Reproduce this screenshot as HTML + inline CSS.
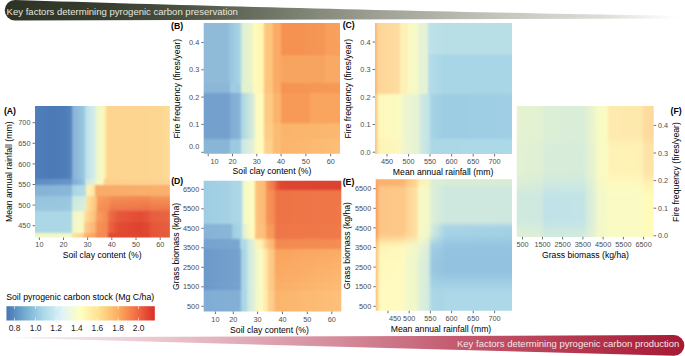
<!DOCTYPE html>
<html><head><meta charset="utf-8"><style>
html,body{margin:0;padding:0;background:#fff;}
body{width:685px;height:356px;overflow:hidden;}
svg{display:block;font-family:"Liberation Sans", sans-serif;}
</style></head><body>
<svg width="685" height="356" viewBox="0 0 685 356">
<defs><linearGradient id="topban" gradientUnits="userSpaceOnUse" x1="0" y1="0" x2="685" y2="0">
<stop offset="0" stop-color="#2c3324"/>
<stop offset="0.146" stop-color="#363d2e"/>
<stop offset="0.263" stop-color="#4a5142"/>
<stop offset="0.394" stop-color="#6f7565"/>
<stop offset="0.438" stop-color="#7d8373"/>
<stop offset="0.562" stop-color="#a0a396"/>
<stop offset="0.752" stop-color="#c8cac2"/>
<stop offset="0.876" stop-color="#dcdcd6"/>
<stop offset="0.99" stop-color="#ffffff"/>
</linearGradient>
<linearGradient id="botban" gradientUnits="userSpaceOnUse" x1="0" y1="0" x2="685" y2="0">
<stop offset="0" stop-color="#ffffff"/>
<stop offset="0.05" stop-color="#f7eaee"/>
<stop offset="0.146" stop-color="#f0d8de"/>
<stop offset="0.248" stop-color="#e9c3cc"/>
<stop offset="0.496" stop-color="#d48b9a"/>
<stop offset="0.666" stop-color="#c35a70"/>
<stop offset="0.876" stop-color="#b23048"/>
<stop offset="1" stop-color="#a61a36"/>
</linearGradient>
<filter id="soft1_2" x="0" y="0" width="1" height="1" color-interpolation-filters="sRGB"><feGaussianBlur stdDeviation="1.2" edgeMode="duplicate"/></filter>
<clipPath id="c1"><rect x="35.00" y="106.00" width="134.90" height="131.50"/></clipPath>
<linearGradient id="g1" gradientUnits="userSpaceOnUse" x1="35.00" y1="0" x2="169.90" y2="0"><stop offset="0.0000" stop-color="#4f7fbb"/><stop offset="0.1112" stop-color="#4b7ab7"/><stop offset="0.2224" stop-color="#4d7cb9"/><stop offset="0.2721" stop-color="#5685be"/><stop offset="0.2721" stop-color="#86b0d6"/><stop offset="0.3721" stop-color="#9ccbe0"/><stop offset="0.3721" stop-color="#b9e0ea"/><stop offset="0.4485" stop-color="#d8efe8"/><stop offset="0.4485" stop-color="#eef7cc"/><stop offset="0.5078" stop-color="#f6fac0"/><stop offset="0.5078" stop-color="#fff0b0"/><stop offset="0.5300" stop-color="#fff0b0"/><stop offset="0.5300" stop-color="#fdd590"/><stop offset="0.9266" stop-color="#fdd692"/><stop offset="1.0000" stop-color="#fedd98"/></linearGradient>
<linearGradient id="g2" gradientUnits="userSpaceOnUse" x1="35.00" y1="0" x2="169.90" y2="0"><stop offset="0.0000" stop-color="#5f8cc4"/><stop offset="0.2743" stop-color="#6a96c8"/><stop offset="0.2743" stop-color="#7eaad3"/><stop offset="0.3706" stop-color="#96c3de"/><stop offset="0.3706" stop-color="#c8e6e6"/><stop offset="0.4522" stop-color="#e8f4d4"/><stop offset="0.4522" stop-color="#f6f9c4"/><stop offset="0.5115" stop-color="#fbf4bc"/><stop offset="0.5115" stop-color="#fdd08c"/><stop offset="1.0000" stop-color="#fdd494"/></linearGradient>
<linearGradient id="g3" gradientUnits="userSpaceOnUse" x1="35.00" y1="0" x2="169.90" y2="0"><stop offset="0.0000" stop-color="#86b3d6"/><stop offset="0.2743" stop-color="#8ab8d8"/><stop offset="0.2743" stop-color="#a8d5e6"/><stop offset="0.3781" stop-color="#b5dde6"/><stop offset="0.3781" stop-color="#fef4b4"/><stop offset="0.4448" stop-color="#fee8a8"/><stop offset="0.4448" stop-color="#f9ab6a"/><stop offset="1.0000" stop-color="#fab06c"/></linearGradient>
<linearGradient id="g4" gradientUnits="userSpaceOnUse" x1="35.00" y1="0" x2="169.90" y2="0"><stop offset="0.0000" stop-color="#96c4df"/><stop offset="0.2743" stop-color="#99c7df"/><stop offset="0.2743" stop-color="#c9e7e2"/><stop offset="0.3781" stop-color="#d7eddc"/><stop offset="0.3781" stop-color="#fee6a2"/><stop offset="0.4596" stop-color="#fdc17b"/><stop offset="0.4596" stop-color="#f89e5e"/><stop offset="0.5560" stop-color="#f69457"/><stop offset="0.5560" stop-color="#f48f56"/><stop offset="0.8525" stop-color="#f38a52"/><stop offset="0.8525" stop-color="#f49256"/><stop offset="1.0000" stop-color="#f49558"/></linearGradient>
<linearGradient id="g5" gradientUnits="userSpaceOnUse" x1="35.00" y1="0" x2="169.90" y2="0"><stop offset="0.0000" stop-color="#97c5df"/><stop offset="0.2743" stop-color="#9ac8df"/><stop offset="0.2743" stop-color="#cce8e0"/><stop offset="0.3781" stop-color="#d8eddb"/><stop offset="0.3781" stop-color="#fee5a1"/><stop offset="0.4596" stop-color="#fdc07a"/><stop offset="0.4596" stop-color="#f7995c"/><stop offset="0.5560" stop-color="#f59055"/><stop offset="0.5560" stop-color="#f28753"/><stop offset="0.8525" stop-color="#f1814e"/><stop offset="0.8525" stop-color="#f28852"/><stop offset="1.0000" stop-color="#f28a53"/></linearGradient>
<linearGradient id="g6" gradientUnits="userSpaceOnUse" x1="35.00" y1="0" x2="169.90" y2="0"><stop offset="0.0000" stop-color="#98c6df"/><stop offset="0.2743" stop-color="#9bc8e0"/><stop offset="0.2743" stop-color="#cee9e0"/><stop offset="0.3781" stop-color="#daeedb"/><stop offset="0.3781" stop-color="#fee5a1"/><stop offset="0.4596" stop-color="#fdbe78"/><stop offset="0.4596" stop-color="#f79558"/><stop offset="0.5560" stop-color="#f48c53"/><stop offset="0.5560" stop-color="#f1804f"/><stop offset="0.8525" stop-color="#ef794b"/><stop offset="0.8525" stop-color="#f1804e"/><stop offset="1.0000" stop-color="#f1804e"/></linearGradient>
<linearGradient id="g7" gradientUnits="userSpaceOnUse" x1="35.00" y1="0" x2="169.90" y2="0"><stop offset="0.0000" stop-color="#99c7df"/><stop offset="0.2743" stop-color="#9cc9e0"/><stop offset="0.2743" stop-color="#d1eade"/><stop offset="0.3781" stop-color="#dbeeda"/><stop offset="0.3781" stop-color="#fee4a0"/><stop offset="0.4596" stop-color="#fdbd77"/><stop offset="0.4596" stop-color="#f69056"/><stop offset="0.5560" stop-color="#f38851"/><stop offset="0.5560" stop-color="#ef784c"/><stop offset="0.8525" stop-color="#ed7047"/><stop offset="0.8525" stop-color="#ef764a"/><stop offset="1.0000" stop-color="#ef7549"/></linearGradient>
<linearGradient id="g8" gradientUnits="userSpaceOnUse" x1="35.00" y1="0" x2="169.90" y2="0"><stop offset="0.0000" stop-color="#acd7e7"/><stop offset="0.2743" stop-color="#acd7e7"/><stop offset="0.2743" stop-color="#eef7cd"/><stop offset="0.3632" stop-color="#f8f9c4"/><stop offset="0.3632" stop-color="#fee2a0"/><stop offset="0.4522" stop-color="#fdbc76"/><stop offset="0.4522" stop-color="#f9a060"/><stop offset="0.5411" stop-color="#f48a50"/><stop offset="0.5411" stop-color="#ef7248"/><stop offset="0.6153" stop-color="#e7583b"/><stop offset="0.7784" stop-color="#e34c34"/><stop offset="0.8525" stop-color="#e6553a"/><stop offset="0.8525" stop-color="#e85d3e"/><stop offset="1.0000" stop-color="#ea6442"/></linearGradient>
<linearGradient id="g9" gradientUnits="userSpaceOnUse" x1="35.00" y1="0" x2="169.90" y2="0"><stop offset="0.0000" stop-color="#acd8e6"/><stop offset="0.2743" stop-color="#acd8e6"/><stop offset="0.2743" stop-color="#f0f7cc"/><stop offset="0.3632" stop-color="#fcf9c0"/><stop offset="0.3632" stop-color="#fdd090"/><stop offset="0.4522" stop-color="#fdb070"/><stop offset="0.4522" stop-color="#f79458"/><stop offset="0.5411" stop-color="#f38650"/><stop offset="0.5411" stop-color="#ec6a44"/><stop offset="0.6153" stop-color="#e34d34"/><stop offset="0.7784" stop-color="#dd4230"/><stop offset="0.8525" stop-color="#e24a33"/><stop offset="0.8525" stop-color="#e45739"/><stop offset="1.0000" stop-color="#e75e3e"/></linearGradient>
<linearGradient id="g10" gradientUnits="userSpaceOnUse" x1="35.00" y1="0" x2="169.90" y2="0"><stop offset="0.0000" stop-color="#f2f8c8"/><stop offset="0.2743" stop-color="#f2f8c8"/><stop offset="0.2743" stop-color="#fee4a0"/><stop offset="0.3632" stop-color="#fdd490"/><stop offset="0.3632" stop-color="#fdb56e"/><stop offset="0.4522" stop-color="#fba060"/><stop offset="0.4522" stop-color="#f68a50"/><stop offset="0.5411" stop-color="#f68a50"/><stop offset="0.5411" stop-color="#e34a33"/><stop offset="0.8525" stop-color="#e0442f"/><stop offset="0.8525" stop-color="#e4563a"/><stop offset="1.0000" stop-color="#e65b3d"/></linearGradient>
<linearGradient id="leg" gradientUnits="userSpaceOnUse" x1="6.45" y1="0" x2="154.8" y2="0">
<stop offset="0" stop-color="#4575b4"/>
<stop offset="0.125" stop-color="#74add1"/>
<stop offset="0.25" stop-color="#abd9e9"/>
<stop offset="0.375" stop-color="#e0f3f8"/>
<stop offset="0.5" stop-color="#ffffbf"/>
<stop offset="0.625" stop-color="#fee090"/>
<stop offset="0.75" stop-color="#fdae61"/>
<stop offset="0.875" stop-color="#f46d43"/>
<stop offset="1" stop-color="#d73027"/>
</linearGradient>
<clipPath id="c2"><rect x="203.70" y="23.00" width="136.30" height="130.80"/></clipPath>
<linearGradient id="g11" gradientUnits="userSpaceOnUse" x1="203.70" y1="0" x2="340.00" y2="0"><stop offset="0.0000" stop-color="#90bad8"/><stop offset="0.1563" stop-color="#8fbad8"/><stop offset="0.1944" stop-color="#94c0db"/><stop offset="0.1944" stop-color="#9ac6df"/><stop offset="0.2729" stop-color="#a8d6e6"/><stop offset="0.2729" stop-color="#d8edd8"/><stop offset="0.3646" stop-color="#f0f6c6"/><stop offset="0.3646" stop-color="#fffbbc"/><stop offset="0.4453" stop-color="#fff4ae"/><stop offset="0.4453" stop-color="#fdc880"/><stop offset="0.5121" stop-color="#fdc27c"/><stop offset="0.5121" stop-color="#fbab66"/><stop offset="0.5642" stop-color="#fbab66"/><stop offset="0.5642" stop-color="#f59252"/><stop offset="0.7432" stop-color="#f59252"/><stop offset="0.7432" stop-color="#f59454"/><stop offset="0.8899" stop-color="#f69756"/><stop offset="0.8899" stop-color="#f79e5a"/><stop offset="1.0000" stop-color="#f8a05c"/></linearGradient>
<linearGradient id="g12" gradientUnits="userSpaceOnUse" x1="203.70" y1="0" x2="340.00" y2="0"><stop offset="0.0000" stop-color="#90bad8"/><stop offset="0.1563" stop-color="#8fbad8"/><stop offset="0.1944" stop-color="#94c0db"/><stop offset="0.1944" stop-color="#9ac6df"/><stop offset="0.2729" stop-color="#a8d6e6"/><stop offset="0.2729" stop-color="#d8edd8"/><stop offset="0.3646" stop-color="#f0f6c6"/><stop offset="0.3646" stop-color="#fffbbc"/><stop offset="0.4453" stop-color="#fff4ae"/><stop offset="0.4453" stop-color="#fdc880"/><stop offset="0.5121" stop-color="#fdc27c"/><stop offset="0.5121" stop-color="#fbab66"/><stop offset="0.5642" stop-color="#fbab66"/><stop offset="0.5642" stop-color="#f8a461"/><stop offset="0.8899" stop-color="#f8a461"/><stop offset="0.8899" stop-color="#f9a964"/><stop offset="1.0000" stop-color="#f9a964"/></linearGradient>
<linearGradient id="g13" gradientUnits="userSpaceOnUse" x1="203.70" y1="0" x2="340.00" y2="0"><stop offset="0.0000" stop-color="#8cb7d7"/><stop offset="0.1944" stop-color="#8cb7d7"/><stop offset="0.1944" stop-color="#9fcce2"/><stop offset="0.2729" stop-color="#9fcce2"/><stop offset="0.2729" stop-color="#e0f0d2"/><stop offset="0.3646" stop-color="#e8f3cc"/><stop offset="0.3646" stop-color="#fffac0"/><stop offset="0.4453" stop-color="#fff4b0"/><stop offset="0.4453" stop-color="#fdc47e"/><stop offset="0.5121" stop-color="#fdc47e"/><stop offset="0.5121" stop-color="#fbab66"/><stop offset="0.5642" stop-color="#fbab66"/><stop offset="0.5642" stop-color="#f69352"/><stop offset="1.0000" stop-color="#f69a56"/></linearGradient>
<linearGradient id="g14" gradientUnits="userSpaceOnUse" x1="203.70" y1="0" x2="340.00" y2="0"><stop offset="0.0000" stop-color="#74a0ce"/><stop offset="0.1966" stop-color="#74a0ce"/><stop offset="0.1966" stop-color="#80acd4"/><stop offset="0.2759" stop-color="#8ab6d8"/><stop offset="0.2759" stop-color="#a8d5e6"/><stop offset="0.3764" stop-color="#e0f0d4"/><stop offset="0.3764" stop-color="#fffabe"/><stop offset="0.4424" stop-color="#fffabe"/><stop offset="0.4424" stop-color="#fdca84"/><stop offset="0.5121" stop-color="#fdca84"/><stop offset="0.5121" stop-color="#fbb46c"/><stop offset="0.5642" stop-color="#fbb46c"/><stop offset="0.5642" stop-color="#f79a58"/><stop offset="0.7799" stop-color="#f79a58"/><stop offset="0.7799" stop-color="#f9a560"/><stop offset="1.0000" stop-color="#f9a560"/></linearGradient>
<linearGradient id="g15" gradientUnits="userSpaceOnUse" x1="203.70" y1="0" x2="340.00" y2="0"><stop offset="0.0000" stop-color="#74a0ce"/><stop offset="0.1966" stop-color="#74a0ce"/><stop offset="0.1966" stop-color="#80acd4"/><stop offset="0.2759" stop-color="#8ab6d8"/><stop offset="0.2759" stop-color="#a8d5e6"/><stop offset="0.3764" stop-color="#e0f0d4"/><stop offset="0.3764" stop-color="#fffabe"/><stop offset="0.4424" stop-color="#fffabe"/><stop offset="0.4424" stop-color="#fdcc86"/><stop offset="0.5121" stop-color="#fdcc86"/><stop offset="0.5121" stop-color="#fcbc74"/><stop offset="0.5642" stop-color="#fcbc74"/><stop offset="0.5642" stop-color="#fbb46c"/><stop offset="1.0000" stop-color="#fcb870"/></linearGradient>
<linearGradient id="g16" gradientUnits="userSpaceOnUse" x1="203.70" y1="0" x2="340.00" y2="0"><stop offset="0.0000" stop-color="#89b5d6"/><stop offset="0.1930" stop-color="#89b5d6"/><stop offset="0.1930" stop-color="#9ccae1"/><stop offset="0.2737" stop-color="#9ccae1"/><stop offset="0.2737" stop-color="#c8e6e8"/><stop offset="0.3764" stop-color="#e8f4d0"/><stop offset="0.3764" stop-color="#fffbc0"/><stop offset="0.4424" stop-color="#fffbc0"/><stop offset="0.4424" stop-color="#fdd08c"/><stop offset="0.5121" stop-color="#fdd08c"/><stop offset="0.5121" stop-color="#fcbc74"/><stop offset="0.5642" stop-color="#fcbc74"/><stop offset="0.5642" stop-color="#fbb46c"/><stop offset="1.0000" stop-color="#fdbe76"/></linearGradient>
<clipPath id="c3"><rect x="375.00" y="23.00" width="137.00" height="131.00"/></clipPath>
<linearGradient id="g17" gradientUnits="userSpaceOnUse" x1="375.00" y1="0" x2="512.00" y2="0"><stop offset="0.0000" stop-color="#fdb874"/><stop offset="0.0146" stop-color="#fdb874"/><stop offset="0.0146" stop-color="#fed496"/><stop offset="0.1825" stop-color="#fedda2"/><stop offset="0.1825" stop-color="#fff0b5"/><stop offset="0.2409" stop-color="#fff0b5"/><stop offset="0.2409" stop-color="#f8fac6"/><stop offset="0.3139" stop-color="#f8fac6"/><stop offset="0.3139" stop-color="#e5f2d5"/><stop offset="0.3869" stop-color="#e5f2d5"/><stop offset="0.3869" stop-color="#bfe2eb"/><stop offset="0.5036" stop-color="#b8dee6"/><stop offset="1.0000" stop-color="#b8dee6"/></linearGradient>
<linearGradient id="g18" gradientUnits="userSpaceOnUse" x1="375.00" y1="0" x2="512.00" y2="0"><stop offset="0.0000" stop-color="#fdb874"/><stop offset="0.0146" stop-color="#fdb874"/><stop offset="0.0146" stop-color="#fed496"/><stop offset="0.1825" stop-color="#fedda2"/><stop offset="0.1825" stop-color="#fff0b5"/><stop offset="0.2409" stop-color="#fff0b5"/><stop offset="0.2409" stop-color="#f8fac6"/><stop offset="0.3139" stop-color="#f8fac6"/><stop offset="0.3139" stop-color="#e5f2d5"/><stop offset="0.3869" stop-color="#e5f2d5"/><stop offset="0.3869" stop-color="#b5dde8"/><stop offset="0.5036" stop-color="#a8d6e6"/><stop offset="1.0000" stop-color="#a8d6e6"/></linearGradient>
<linearGradient id="g19" gradientUnits="userSpaceOnUse" x1="375.00" y1="0" x2="512.00" y2="0"><stop offset="0.0000" stop-color="#fdc684"/><stop offset="0.0146" stop-color="#fdc684"/><stop offset="0.0146" stop-color="#fde8a8"/><stop offset="0.0292" stop-color="#fef8bc"/><stop offset="0.1971" stop-color="#fbfac2"/><stop offset="0.1971" stop-color="#f0f7ce"/><stop offset="0.3285" stop-color="#e2f1d6"/><stop offset="0.3285" stop-color="#d0eae2"/><stop offset="0.4015" stop-color="#c0e3e8"/><stop offset="0.4015" stop-color="#a8d5e6"/><stop offset="0.5036" stop-color="#9ccde3"/><stop offset="1.0000" stop-color="#a0cfe4"/></linearGradient>
<linearGradient id="g20" gradientUnits="userSpaceOnUse" x1="375.00" y1="0" x2="512.00" y2="0"><stop offset="0.0000" stop-color="#fdc684"/><stop offset="0.0146" stop-color="#fdc684"/><stop offset="0.0146" stop-color="#fde4a4"/><stop offset="0.0292" stop-color="#fef4b6"/><stop offset="0.1971" stop-color="#fcf8c0"/><stop offset="0.1971" stop-color="#f0f7ce"/><stop offset="0.3285" stop-color="#e2f1d6"/><stop offset="0.3285" stop-color="#d0eae2"/><stop offset="0.4015" stop-color="#c0e3e8"/><stop offset="0.4015" stop-color="#acd8e6"/><stop offset="1.0000" stop-color="#acd9e8"/></linearGradient>
<filter id="soft1_3" x="0" y="0" width="1" height="1" color-interpolation-filters="sRGB"><feGaussianBlur stdDeviation="1.3" edgeMode="duplicate"/></filter>
<clipPath id="c4"><rect x="203.70" y="180.80" width="137.60" height="130.80"/></clipPath>
<linearGradient id="g21" gradientUnits="userSpaceOnUse" x1="203.70" y1="0" x2="341.30" y2="0"><stop offset="0.0000" stop-color="#9ecde3"/><stop offset="0.1911" stop-color="#a5d1e4"/><stop offset="0.1911" stop-color="#a8d4e6"/><stop offset="0.2783" stop-color="#aed8e6"/><stop offset="0.2783" stop-color="#d8eedc"/><stop offset="0.2929" stop-color="#eef6cc"/><stop offset="0.2929" stop-color="#f6f9c6"/><stop offset="0.3728" stop-color="#fffcc0"/><stop offset="0.3728" stop-color="#fdc480"/><stop offset="0.4528" stop-color="#fdb872"/><stop offset="0.4528" stop-color="#f59454"/><stop offset="0.5182" stop-color="#ee7248"/><stop offset="0.5182" stop-color="#ea6442"/><stop offset="0.5618" stop-color="#df4630"/><stop offset="1.0000" stop-color="#dc4230"/></linearGradient>
<linearGradient id="g22" gradientUnits="userSpaceOnUse" x1="203.70" y1="0" x2="341.30" y2="0"><stop offset="0.0000" stop-color="#9ecde3"/><stop offset="0.1911" stop-color="#a5d1e4"/><stop offset="0.1911" stop-color="#a8d4e6"/><stop offset="0.2783" stop-color="#aed8e6"/><stop offset="0.2783" stop-color="#d8eedc"/><stop offset="0.2929" stop-color="#eef6cc"/><stop offset="0.2929" stop-color="#f6f9c6"/><stop offset="0.3728" stop-color="#fffcc0"/><stop offset="0.3728" stop-color="#fdc480"/><stop offset="0.4528" stop-color="#fdb872"/><stop offset="0.4528" stop-color="#f7955a"/><stop offset="0.5182" stop-color="#f38a52"/><stop offset="0.5182" stop-color="#ee7446"/><stop offset="1.0000" stop-color="#ef7748"/></linearGradient>
<linearGradient id="g23" gradientUnits="userSpaceOnUse" x1="203.70" y1="0" x2="341.30" y2="0"><stop offset="0.0000" stop-color="#86b3d6"/><stop offset="0.2057" stop-color="#8ab6d8"/><stop offset="0.2057" stop-color="#a0cde3"/><stop offset="0.2783" stop-color="#aad6e6"/><stop offset="0.2783" stop-color="#d8eedc"/><stop offset="0.3219" stop-color="#eef6cc"/><stop offset="0.3219" stop-color="#fff8ba"/><stop offset="0.3728" stop-color="#fffcc0"/><stop offset="0.3728" stop-color="#fdc480"/><stop offset="0.4528" stop-color="#fdbc76"/><stop offset="0.4528" stop-color="#f8a060"/><stop offset="0.5182" stop-color="#f59454"/><stop offset="0.5182" stop-color="#ef7648"/><stop offset="1.0000" stop-color="#f07a4a"/></linearGradient>
<linearGradient id="g24" gradientUnits="userSpaceOnUse" x1="203.70" y1="0" x2="341.30" y2="0"><stop offset="0.0000" stop-color="#76a3cf"/><stop offset="0.2638" stop-color="#7aa6d0"/><stop offset="0.2638" stop-color="#a8d5e6"/><stop offset="0.3147" stop-color="#b5dde6"/><stop offset="0.3147" stop-color="#c8e6e6"/><stop offset="0.3801" stop-color="#eef6cc"/><stop offset="0.3801" stop-color="#fff4b6"/><stop offset="0.4310" stop-color="#fff0b0"/><stop offset="0.4310" stop-color="#fee0a0"/><stop offset="0.4673" stop-color="#fdc880"/><stop offset="0.4673" stop-color="#fdc080"/><stop offset="0.5182" stop-color="#fbb06a"/><stop offset="0.5182" stop-color="#f38a52"/><stop offset="1.0000" stop-color="#f48e54"/></linearGradient>
<linearGradient id="g25" gradientUnits="userSpaceOnUse" x1="203.70" y1="0" x2="341.30" y2="0"><stop offset="0.0000" stop-color="#6c99ca"/><stop offset="0.2711" stop-color="#76a2cf"/><stop offset="0.2711" stop-color="#a8d5e6"/><stop offset="0.3147" stop-color="#aed8e6"/><stop offset="0.3147" stop-color="#c8e6e6"/><stop offset="0.3801" stop-color="#e8f4d2"/><stop offset="0.3801" stop-color="#f2f8ca"/><stop offset="0.4310" stop-color="#fffbc0"/><stop offset="0.4310" stop-color="#fff0b0"/><stop offset="0.4673" stop-color="#fee0a0"/><stop offset="0.4673" stop-color="#fdd08c"/><stop offset="0.5182" stop-color="#fdc07c"/><stop offset="0.5182" stop-color="#f9a35f"/><stop offset="1.0000" stop-color="#fbad67"/></linearGradient>
<linearGradient id="g26" gradientUnits="userSpaceOnUse" x1="203.70" y1="0" x2="341.30" y2="0"><stop offset="0.0000" stop-color="#6c99ca"/><stop offset="0.2711" stop-color="#76a2cf"/><stop offset="0.2711" stop-color="#a8d5e6"/><stop offset="0.3147" stop-color="#aed8e6"/><stop offset="0.3147" stop-color="#c8e6e6"/><stop offset="0.3801" stop-color="#e8f4d2"/><stop offset="0.3801" stop-color="#f2f8ca"/><stop offset="0.4310" stop-color="#fffbc0"/><stop offset="0.4310" stop-color="#fff0b0"/><stop offset="0.4673" stop-color="#fee0a0"/><stop offset="0.4673" stop-color="#fdd08c"/><stop offset="0.5182" stop-color="#fdc07c"/><stop offset="0.5182" stop-color="#faa560"/><stop offset="1.0000" stop-color="#fcb06a"/></linearGradient>
<linearGradient id="g27" gradientUnits="userSpaceOnUse" x1="203.70" y1="0" x2="341.30" y2="0"><stop offset="0.0000" stop-color="#6c99ca"/><stop offset="0.2711" stop-color="#76a2cf"/><stop offset="0.2711" stop-color="#a8d5e6"/><stop offset="0.3147" stop-color="#aed8e6"/><stop offset="0.3147" stop-color="#c8e6e6"/><stop offset="0.3801" stop-color="#e8f4d2"/><stop offset="0.3801" stop-color="#f2f8ca"/><stop offset="0.4310" stop-color="#fffbc0"/><stop offset="0.4310" stop-color="#fff0b0"/><stop offset="0.4673" stop-color="#fee0a0"/><stop offset="0.4673" stop-color="#fdd08c"/><stop offset="0.5182" stop-color="#fdc07c"/><stop offset="0.5182" stop-color="#faa761"/><stop offset="1.0000" stop-color="#fcb36d"/></linearGradient>
<linearGradient id="g28" gradientUnits="userSpaceOnUse" x1="203.70" y1="0" x2="341.30" y2="0"><stop offset="0.0000" stop-color="#6c99ca"/><stop offset="0.2711" stop-color="#76a2cf"/><stop offset="0.2711" stop-color="#a8d5e6"/><stop offset="0.3147" stop-color="#aed8e6"/><stop offset="0.3147" stop-color="#c8e6e6"/><stop offset="0.3801" stop-color="#e8f4d2"/><stop offset="0.3801" stop-color="#f2f8ca"/><stop offset="0.4310" stop-color="#fffbc0"/><stop offset="0.4310" stop-color="#fff0b0"/><stop offset="0.4673" stop-color="#fee0a0"/><stop offset="0.4673" stop-color="#fdd08c"/><stop offset="0.5182" stop-color="#fdc07c"/><stop offset="0.5182" stop-color="#faa963"/><stop offset="1.0000" stop-color="#fcb56f"/></linearGradient>
<linearGradient id="g29" gradientUnits="userSpaceOnUse" x1="203.70" y1="0" x2="341.30" y2="0"><stop offset="0.0000" stop-color="#6c99ca"/><stop offset="0.2711" stop-color="#76a2cf"/><stop offset="0.2711" stop-color="#a8d5e6"/><stop offset="0.3147" stop-color="#aed8e6"/><stop offset="0.3147" stop-color="#c8e6e6"/><stop offset="0.3801" stop-color="#e8f4d2"/><stop offset="0.3801" stop-color="#f2f8ca"/><stop offset="0.4310" stop-color="#fffbc0"/><stop offset="0.4310" stop-color="#fff0b0"/><stop offset="0.4673" stop-color="#fee0a0"/><stop offset="0.4673" stop-color="#fdd08c"/><stop offset="0.5182" stop-color="#fdc07c"/><stop offset="0.5182" stop-color="#faab64"/><stop offset="1.0000" stop-color="#fcb872"/></linearGradient>
<linearGradient id="g30" gradientUnits="userSpaceOnUse" x1="203.70" y1="0" x2="341.30" y2="0"><stop offset="0.0000" stop-color="#6c99ca"/><stop offset="0.2711" stop-color="#76a2cf"/><stop offset="0.2711" stop-color="#a8d5e6"/><stop offset="0.3147" stop-color="#aed8e6"/><stop offset="0.3147" stop-color="#c8e6e6"/><stop offset="0.3801" stop-color="#e8f4d2"/><stop offset="0.3801" stop-color="#f2f8ca"/><stop offset="0.4310" stop-color="#fffbc0"/><stop offset="0.4310" stop-color="#fff0b0"/><stop offset="0.4673" stop-color="#fee0a0"/><stop offset="0.4673" stop-color="#fdd08c"/><stop offset="0.5182" stop-color="#fdc07c"/><stop offset="0.5182" stop-color="#fbad65"/><stop offset="1.0000" stop-color="#fdbb75"/></linearGradient>
<linearGradient id="g31" gradientUnits="userSpaceOnUse" x1="203.70" y1="0" x2="341.30" y2="0"><stop offset="0.0000" stop-color="#80add5"/><stop offset="0.2711" stop-color="#84b0d6"/><stop offset="0.2711" stop-color="#a8d5e6"/><stop offset="0.3147" stop-color="#aed8e6"/><stop offset="0.3147" stop-color="#c8e6e6"/><stop offset="0.3801" stop-color="#e8f4d2"/><stop offset="0.3801" stop-color="#f2f8ca"/><stop offset="0.4310" stop-color="#fffbc0"/><stop offset="0.4310" stop-color="#fff2b4"/><stop offset="0.4673" stop-color="#fee4a4"/><stop offset="0.4673" stop-color="#fdd490"/><stop offset="0.5182" stop-color="#fdc682"/><stop offset="0.5182" stop-color="#fbb46c"/><stop offset="1.0000" stop-color="#fdc07a"/></linearGradient>
<filter id="soft1_5" x="0" y="0" width="1" height="1" color-interpolation-filters="sRGB"><feGaussianBlur stdDeviation="1.5" edgeMode="duplicate"/></filter>
<clipPath id="c5"><rect x="375.70" y="179.20" width="136.30" height="131.60"/></clipPath>
<linearGradient id="g32" gradientUnits="userSpaceOnUse" x1="375.70" y1="0" x2="512.00" y2="0"><stop offset="0.0000" stop-color="#fba862"/><stop offset="0.0169" stop-color="#fba862"/><stop offset="0.0169" stop-color="#fcb06c"/><stop offset="0.2150" stop-color="#fcb470"/><stop offset="0.2150" stop-color="#fdc07e"/><stop offset="0.3103" stop-color="#fed898"/><stop offset="0.3103" stop-color="#fff0b0"/><stop offset="0.3984" stop-color="#f8f4c0"/><stop offset="0.3984" stop-color="#dcefd6"/><stop offset="0.5011" stop-color="#d8edd8"/><stop offset="0.5011" stop-color="#d8ecd4"/><stop offset="1.0000" stop-color="#d8ecd4"/></linearGradient>
<linearGradient id="g33" gradientUnits="userSpaceOnUse" x1="375.70" y1="0" x2="512.00" y2="0"><stop offset="0.0000" stop-color="#fb9d5e"/><stop offset="0.0169" stop-color="#fb9d5e"/><stop offset="0.0169" stop-color="#fdc585"/><stop offset="0.2150" stop-color="#fdc888"/><stop offset="0.2150" stop-color="#fdd093"/><stop offset="0.3103" stop-color="#fee2a2"/><stop offset="0.3103" stop-color="#f8fac6"/><stop offset="0.3984" stop-color="#f2f8c8"/><stop offset="0.3984" stop-color="#dff0d6"/><stop offset="0.5011" stop-color="#d0e9de"/><stop offset="0.5011" stop-color="#cfe8df"/><stop offset="1.0000" stop-color="#cfe8df"/></linearGradient>
<linearGradient id="g34" gradientUnits="userSpaceOnUse" x1="375.70" y1="0" x2="512.00" y2="0"><stop offset="0.0000" stop-color="#fb9d5e"/><stop offset="0.0169" stop-color="#fb9d5e"/><stop offset="0.0169" stop-color="#fdc585"/><stop offset="0.2150" stop-color="#fdc888"/><stop offset="0.2150" stop-color="#fdd093"/><stop offset="0.3103" stop-color="#fee2a2"/><stop offset="0.3103" stop-color="#f8fac6"/><stop offset="0.3984" stop-color="#f2f8c8"/><stop offset="0.3984" stop-color="#ddf0d8"/><stop offset="0.5011" stop-color="#c7e4e0"/><stop offset="0.5011" stop-color="#c5e3e0"/><stop offset="1.0000" stop-color="#c4e2e0"/></linearGradient>
<linearGradient id="g35" gradientUnits="userSpaceOnUse" x1="375.70" y1="0" x2="512.00" y2="0"><stop offset="0.0000" stop-color="#fb9d5e"/><stop offset="0.0169" stop-color="#fb9d5e"/><stop offset="0.0169" stop-color="#fdc585"/><stop offset="0.2150" stop-color="#fdc888"/><stop offset="0.2150" stop-color="#fdd093"/><stop offset="0.3103" stop-color="#fee2a2"/><stop offset="0.3103" stop-color="#f8fac6"/><stop offset="0.3984" stop-color="#f0f7ca"/><stop offset="0.3984" stop-color="#daeeda"/><stop offset="0.5011" stop-color="#b5dce4"/><stop offset="0.5011" stop-color="#b0d8e4"/><stop offset="1.0000" stop-color="#add7e3"/></linearGradient>
<linearGradient id="g36" gradientUnits="userSpaceOnUse" x1="375.70" y1="0" x2="512.00" y2="0"><stop offset="0.0000" stop-color="#fb9d5e"/><stop offset="0.0169" stop-color="#fb9d5e"/><stop offset="0.0169" stop-color="#fdc585"/><stop offset="0.2150" stop-color="#fdc888"/><stop offset="0.2150" stop-color="#fdd093"/><stop offset="0.3103" stop-color="#fee2a2"/><stop offset="0.3103" stop-color="#f8fac6"/><stop offset="0.3984" stop-color="#f0f7ca"/><stop offset="0.3984" stop-color="#d8eedc"/><stop offset="0.5011" stop-color="#acd7e6"/><stop offset="0.5011" stop-color="#a6d3e5"/><stop offset="1.0000" stop-color="#a2d1e4"/></linearGradient>
<linearGradient id="g37" gradientUnits="userSpaceOnUse" x1="375.70" y1="0" x2="512.00" y2="0"><stop offset="0.0000" stop-color="#fba262"/><stop offset="0.0169" stop-color="#fba262"/><stop offset="0.0169" stop-color="#fdcb8b"/><stop offset="0.2150" stop-color="#fdce8e"/><stop offset="0.2150" stop-color="#fcd599"/><stop offset="0.3103" stop-color="#fce4a7"/><stop offset="0.3103" stop-color="#f7fac7"/><stop offset="0.3984" stop-color="#edf6cc"/><stop offset="0.3984" stop-color="#d2eadd"/><stop offset="0.5011" stop-color="#aad5e6"/><stop offset="0.5011" stop-color="#a4d1e4"/><stop offset="1.0000" stop-color="#a0cfe4"/></linearGradient>
<linearGradient id="g38" gradientUnits="userSpaceOnUse" x1="375.70" y1="0" x2="512.00" y2="0"><stop offset="0.0000" stop-color="#fcaa6a"/><stop offset="0.0169" stop-color="#fcaa6a"/><stop offset="0.0169" stop-color="#fed697"/><stop offset="0.2150" stop-color="#feda9c"/><stop offset="0.2150" stop-color="#fbe0a5"/><stop offset="0.3103" stop-color="#f8eab2"/><stop offset="0.3103" stop-color="#f4f8c8"/><stop offset="0.3984" stop-color="#e7f3d0"/><stop offset="0.3984" stop-color="#c4e3df"/><stop offset="0.5011" stop-color="#a4d1e4"/><stop offset="0.5011" stop-color="#9fcde3"/><stop offset="1.0000" stop-color="#9dcce2"/></linearGradient>
<linearGradient id="g39" gradientUnits="userSpaceOnUse" x1="375.70" y1="0" x2="512.00" y2="0"><stop offset="0.0000" stop-color="#fcb472"/><stop offset="0.0169" stop-color="#fcb472"/><stop offset="0.0169" stop-color="#fee1a2"/><stop offset="0.2150" stop-color="#fee6a8"/><stop offset="0.2150" stop-color="#faeab2"/><stop offset="0.3103" stop-color="#f4eebc"/><stop offset="0.3103" stop-color="#f2f8ca"/><stop offset="0.3984" stop-color="#e1f1d5"/><stop offset="0.3984" stop-color="#b8dbe1"/><stop offset="0.5011" stop-color="#a0cee4"/><stop offset="0.5011" stop-color="#9bcae2"/><stop offset="1.0000" stop-color="#99c9e2"/></linearGradient>
<linearGradient id="g40" gradientUnits="userSpaceOnUse" x1="375.70" y1="0" x2="512.00" y2="0"><stop offset="0.0000" stop-color="#fdbc7a"/><stop offset="0.0169" stop-color="#fdbc7a"/><stop offset="0.0169" stop-color="#ffecae"/><stop offset="0.2150" stop-color="#fff2b6"/><stop offset="0.2150" stop-color="#f9f5be"/><stop offset="0.3103" stop-color="#f0f4c7"/><stop offset="0.3103" stop-color="#eff6cb"/><stop offset="0.3984" stop-color="#dbeed9"/><stop offset="0.3984" stop-color="#aad4e3"/><stop offset="0.5011" stop-color="#9acae2"/><stop offset="0.5011" stop-color="#96c6e1"/><stop offset="1.0000" stop-color="#96c6e0"/></linearGradient>
<linearGradient id="g41" gradientUnits="userSpaceOnUse" x1="375.70" y1="0" x2="512.00" y2="0"><stop offset="0.0000" stop-color="#fdc17e"/><stop offset="0.0169" stop-color="#fdc17e"/><stop offset="0.0169" stop-color="#fff3b5"/><stop offset="0.2150" stop-color="#fff8bc"/><stop offset="0.2150" stop-color="#f8fac4"/><stop offset="0.3103" stop-color="#eef6cc"/><stop offset="0.3103" stop-color="#ecf5cd"/><stop offset="0.3984" stop-color="#d7eddc"/><stop offset="0.3984" stop-color="#a3cfe4"/><stop offset="0.5011" stop-color="#98c7e2"/><stop offset="0.5011" stop-color="#94c4e0"/><stop offset="1.0000" stop-color="#94c4e0"/></linearGradient>
<linearGradient id="g42" gradientUnits="userSpaceOnUse" x1="375.70" y1="0" x2="512.00" y2="0"><stop offset="0.0000" stop-color="#fdc17e"/><stop offset="0.0169" stop-color="#fdc17e"/><stop offset="0.0169" stop-color="#fff4b7"/><stop offset="0.2150" stop-color="#fff9be"/><stop offset="0.2150" stop-color="#f6f9c6"/><stop offset="0.3103" stop-color="#eef6cc"/><stop offset="0.3103" stop-color="#eaf4cf"/><stop offset="0.3984" stop-color="#d5ecde"/><stop offset="0.3984" stop-color="#a1cde3"/><stop offset="0.5011" stop-color="#96c6e1"/><stop offset="0.5011" stop-color="#93c3e0"/><stop offset="1.0000" stop-color="#93c3e0"/></linearGradient>
<linearGradient id="g43" gradientUnits="userSpaceOnUse" x1="375.70" y1="0" x2="512.00" y2="0"><stop offset="0.0000" stop-color="#fdc17e"/><stop offset="0.0169" stop-color="#fdc17e"/><stop offset="0.0169" stop-color="#fff6b9"/><stop offset="0.2150" stop-color="#fff9be"/><stop offset="0.2150" stop-color="#f6f9c6"/><stop offset="0.3103" stop-color="#eef6cc"/><stop offset="0.3103" stop-color="#e6f3d1"/><stop offset="0.3984" stop-color="#d3ebdf"/><stop offset="0.3984" stop-color="#9fcce2"/><stop offset="0.5011" stop-color="#96c5e1"/><stop offset="0.5011" stop-color="#93c3df"/><stop offset="1.0000" stop-color="#93c3df"/></linearGradient>
<linearGradient id="g44" gradientUnits="userSpaceOnUse" x1="375.70" y1="0" x2="512.00" y2="0"><stop offset="0.0000" stop-color="#fdc17e"/><stop offset="0.0169" stop-color="#fdc17e"/><stop offset="0.0169" stop-color="#fff7bb"/><stop offset="0.2150" stop-color="#fffac0"/><stop offset="0.2150" stop-color="#f4f8c8"/><stop offset="0.3103" stop-color="#eef6cc"/><stop offset="0.3103" stop-color="#e4f2d3"/><stop offset="0.3984" stop-color="#d1eae1"/><stop offset="0.3984" stop-color="#9dcae1"/><stop offset="0.5011" stop-color="#94c4e0"/><stop offset="0.5011" stop-color="#92c2df"/><stop offset="1.0000" stop-color="#92c2df"/></linearGradient>
<linearGradient id="g45" gradientUnits="userSpaceOnUse" x1="375.70" y1="0" x2="512.00" y2="0"><stop offset="0.0000" stop-color="#fdc17e"/><stop offset="0.0169" stop-color="#fdc17e"/><stop offset="0.0169" stop-color="#fff8bc"/><stop offset="0.2150" stop-color="#fffac0"/><stop offset="0.2150" stop-color="#f4f8c8"/><stop offset="0.3103" stop-color="#eef6cc"/><stop offset="0.3103" stop-color="#e2f1d4"/><stop offset="0.3984" stop-color="#d0eae2"/><stop offset="0.3984" stop-color="#9cc9e1"/><stop offset="0.5011" stop-color="#94c3e0"/><stop offset="0.5011" stop-color="#92c2df"/><stop offset="1.0000" stop-color="#92c2df"/></linearGradient>
<linearGradient id="g46" gradientUnits="userSpaceOnUse" x1="375.70" y1="0" x2="512.00" y2="0"><stop offset="0.0000" stop-color="#fdc17e"/><stop offset="0.0169" stop-color="#fdc17e"/><stop offset="0.0169" stop-color="#fff8bc"/><stop offset="0.2150" stop-color="#fffac0"/><stop offset="0.2150" stop-color="#f4f8c8"/><stop offset="0.3103" stop-color="#eef6cc"/><stop offset="0.3103" stop-color="#e2f1d4"/><stop offset="0.3984" stop-color="#d0eae2"/><stop offset="0.3984" stop-color="#9ecae2"/><stop offset="0.5011" stop-color="#96c5e1"/><stop offset="0.5011" stop-color="#95c4e0"/><stop offset="1.0000" stop-color="#95c4e0"/></linearGradient>
<linearGradient id="g47" gradientUnits="userSpaceOnUse" x1="375.70" y1="0" x2="512.00" y2="0"><stop offset="0.0000" stop-color="#fdc17e"/><stop offset="0.0169" stop-color="#fdc17e"/><stop offset="0.0169" stop-color="#fff9bd"/><stop offset="0.2150" stop-color="#fffac0"/><stop offset="0.2150" stop-color="#f4f8c8"/><stop offset="0.3103" stop-color="#eef6cc"/><stop offset="0.3103" stop-color="#e2f1d4"/><stop offset="0.3984" stop-color="#d0eae2"/><stop offset="0.3984" stop-color="#a1cee2"/><stop offset="0.5011" stop-color="#9ac8e2"/><stop offset="0.5011" stop-color="#9ac9e2"/><stop offset="1.0000" stop-color="#9ac9e2"/></linearGradient>
<linearGradient id="g48" gradientUnits="userSpaceOnUse" x1="375.70" y1="0" x2="512.00" y2="0"><stop offset="0.0000" stop-color="#fdc17e"/><stop offset="0.0169" stop-color="#fdc17e"/><stop offset="0.0169" stop-color="#fff9be"/><stop offset="0.2150" stop-color="#fffac0"/><stop offset="0.2150" stop-color="#f4f8c8"/><stop offset="0.3103" stop-color="#eef6cc"/><stop offset="0.3103" stop-color="#e2f1d4"/><stop offset="0.3984" stop-color="#d0eae2"/><stop offset="0.3984" stop-color="#a4d0e4"/><stop offset="0.5011" stop-color="#9ecce3"/><stop offset="0.5011" stop-color="#9fcde4"/><stop offset="1.0000" stop-color="#9fcde4"/></linearGradient>
<linearGradient id="g49" gradientUnits="userSpaceOnUse" x1="375.70" y1="0" x2="512.00" y2="0"><stop offset="0.0000" stop-color="#fdc17e"/><stop offset="0.0169" stop-color="#fdc17e"/><stop offset="0.0169" stop-color="#fff9bf"/><stop offset="0.2150" stop-color="#fffac0"/><stop offset="0.2150" stop-color="#f4f8c8"/><stop offset="0.3103" stop-color="#eef6cc"/><stop offset="0.3103" stop-color="#e2f1d4"/><stop offset="0.3984" stop-color="#d0eae2"/><stop offset="0.3984" stop-color="#a7d4e4"/><stop offset="0.5011" stop-color="#a2d0e4"/><stop offset="0.5011" stop-color="#a4d1e5"/><stop offset="1.0000" stop-color="#a4d1e5"/></linearGradient>
<linearGradient id="g50" gradientUnits="userSpaceOnUse" x1="375.70" y1="0" x2="512.00" y2="0"><stop offset="0.0000" stop-color="#fdc17e"/><stop offset="0.0169" stop-color="#fdc17e"/><stop offset="0.0169" stop-color="#fffac0"/><stop offset="0.2150" stop-color="#fffac0"/><stop offset="0.2150" stop-color="#f4f8c8"/><stop offset="0.3103" stop-color="#eef6cc"/><stop offset="0.3103" stop-color="#e2f1d4"/><stop offset="0.3984" stop-color="#d0eae2"/><stop offset="0.3984" stop-color="#aad6e6"/><stop offset="0.5011" stop-color="#a6d3e5"/><stop offset="0.5011" stop-color="#a9d6e7"/><stop offset="1.0000" stop-color="#a9d6e7"/></linearGradient>
<linearGradient id="g51" gradientUnits="userSpaceOnUse" x1="375.70" y1="0" x2="512.00" y2="0"><stop offset="0.0000" stop-color="#fdc17e"/><stop offset="0.0169" stop-color="#fdc17e"/><stop offset="0.0169" stop-color="#fffac0"/><stop offset="0.2150" stop-color="#fffac0"/><stop offset="0.2150" stop-color="#f4f8c8"/><stop offset="0.3103" stop-color="#eef6cc"/><stop offset="0.3103" stop-color="#e2f1d4"/><stop offset="0.3984" stop-color="#d0eae2"/><stop offset="0.3984" stop-color="#acd8e6"/><stop offset="0.5011" stop-color="#a8d5e6"/><stop offset="0.5011" stop-color="#acd8e8"/><stop offset="1.0000" stop-color="#acd8e8"/></linearGradient>
<filter id="soft1_6" x="0" y="0" width="1" height="1" color-interpolation-filters="sRGB"><feGaussianBlur stdDeviation="1.6" edgeMode="duplicate"/></filter>
<clipPath id="c6"><rect x="516.80" y="106.00" width="136.90" height="130.90"/></clipPath>
<linearGradient id="g52" gradientUnits="userSpaceOnUse" x1="516.80" y1="0" x2="653.70" y2="0"><stop offset="0.0000" stop-color="#e6f2d0"/><stop offset="0.1914" stop-color="#e2f1d2"/><stop offset="0.1914" stop-color="#dcefd6"/><stop offset="0.4982" stop-color="#d8edd8"/><stop offset="0.4982" stop-color="#e0f0d4"/><stop offset="0.5785" stop-color="#eef6ca"/><stop offset="0.5785" stop-color="#f8fac6"/><stop offset="0.6662" stop-color="#fbfbc2"/><stop offset="0.6662" stop-color="#fee9ae"/><stop offset="0.9218" stop-color="#fee8ac"/><stop offset="0.9218" stop-color="#fedca0"/><stop offset="1.0000" stop-color="#fed99e"/></linearGradient>
<linearGradient id="g53" gradientUnits="userSpaceOnUse" x1="516.80" y1="0" x2="653.70" y2="0"><stop offset="0.0000" stop-color="#e5f2d0"/><stop offset="0.1914" stop-color="#e2f1d2"/><stop offset="0.1914" stop-color="#dbefd6"/><stop offset="0.4982" stop-color="#d8edd8"/><stop offset="0.4982" stop-color="#dff0d5"/><stop offset="0.5785" stop-color="#eef6ca"/><stop offset="0.5785" stop-color="#f8fac6"/><stop offset="0.6662" stop-color="#fbfbc2"/><stop offset="0.6662" stop-color="#feeaaf"/><stop offset="0.9218" stop-color="#feeaad"/><stop offset="0.9218" stop-color="#fedda1"/><stop offset="1.0000" stop-color="#feda9f"/></linearGradient>
<linearGradient id="g54" gradientUnits="userSpaceOnUse" x1="516.80" y1="0" x2="653.70" y2="0"><stop offset="0.0000" stop-color="#e4f2d1"/><stop offset="0.1914" stop-color="#e0f0d3"/><stop offset="0.1914" stop-color="#daeed7"/><stop offset="0.4982" stop-color="#d7ecd9"/><stop offset="0.4982" stop-color="#def0d6"/><stop offset="0.5785" stop-color="#edf6cb"/><stop offset="0.5785" stop-color="#f7fac6"/><stop offset="0.6662" stop-color="#fafbc2"/><stop offset="0.6662" stop-color="#feeeb2"/><stop offset="0.9218" stop-color="#feecb0"/><stop offset="0.9218" stop-color="#fee0a4"/><stop offset="1.0000" stop-color="#fedea2"/></linearGradient>
<linearGradient id="g55" gradientUnits="userSpaceOnUse" x1="516.80" y1="0" x2="653.70" y2="0"><stop offset="0.0000" stop-color="#e3f1d2"/><stop offset="0.1914" stop-color="#e0efd4"/><stop offset="0.1914" stop-color="#d9edd8"/><stop offset="0.4982" stop-color="#d6ecda"/><stop offset="0.4982" stop-color="#ddefd7"/><stop offset="0.5785" stop-color="#ecf5cc"/><stop offset="0.5785" stop-color="#f6f9c6"/><stop offset="0.6662" stop-color="#fafbc2"/><stop offset="0.6662" stop-color="#fff0b5"/><stop offset="0.9218" stop-color="#fff0b3"/><stop offset="0.9218" stop-color="#fee3a7"/><stop offset="1.0000" stop-color="#fee0a5"/></linearGradient>
<linearGradient id="g56" gradientUnits="userSpaceOnUse" x1="516.80" y1="0" x2="653.70" y2="0"><stop offset="0.0000" stop-color="#e2f1d2"/><stop offset="0.1914" stop-color="#dfefd4"/><stop offset="0.1914" stop-color="#d8edd8"/><stop offset="0.4982" stop-color="#d6ecda"/><stop offset="0.4982" stop-color="#dcefd8"/><stop offset="0.5785" stop-color="#ecf5cc"/><stop offset="0.5785" stop-color="#f6f9c6"/><stop offset="0.6662" stop-color="#fafbc2"/><stop offset="0.6662" stop-color="#fff2b6"/><stop offset="0.9218" stop-color="#fff1b4"/><stop offset="0.9218" stop-color="#fee4a8"/><stop offset="1.0000" stop-color="#fee2a6"/></linearGradient>
<linearGradient id="g57" gradientUnits="userSpaceOnUse" x1="516.80" y1="0" x2="653.70" y2="0"><stop offset="0.0000" stop-color="#e0f0d3"/><stop offset="0.1914" stop-color="#ddeed5"/><stop offset="0.1914" stop-color="#d6ecd9"/><stop offset="0.4982" stop-color="#d4ebdb"/><stop offset="0.4982" stop-color="#dbeed9"/><stop offset="0.5785" stop-color="#ebf5cd"/><stop offset="0.5785" stop-color="#f5f9c6"/><stop offset="0.6662" stop-color="#fafbc2"/><stop offset="0.6662" stop-color="#fff4b8"/><stop offset="0.9218" stop-color="#fef3b6"/><stop offset="0.9218" stop-color="#fee7aa"/><stop offset="1.0000" stop-color="#fee5a8"/></linearGradient>
<linearGradient id="g58" gradientUnits="userSpaceOnUse" x1="516.80" y1="0" x2="653.70" y2="0"><stop offset="0.0000" stop-color="#ddefd5"/><stop offset="0.1914" stop-color="#daedd8"/><stop offset="0.1914" stop-color="#d2eadc"/><stop offset="0.4982" stop-color="#d1eade"/><stop offset="0.4982" stop-color="#d8edda"/><stop offset="0.5785" stop-color="#e9f4cf"/><stop offset="0.5785" stop-color="#f4f8c7"/><stop offset="0.6662" stop-color="#f9fac3"/><stop offset="0.6662" stop-color="#fef6bb"/><stop offset="0.9218" stop-color="#fef6ba"/><stop offset="0.9218" stop-color="#feecae"/><stop offset="1.0000" stop-color="#feebad"/></linearGradient>
<linearGradient id="g59" gradientUnits="userSpaceOnUse" x1="516.80" y1="0" x2="653.70" y2="0"><stop offset="0.0000" stop-color="#daeed7"/><stop offset="0.1914" stop-color="#d6ecdb"/><stop offset="0.1914" stop-color="#cfe9df"/><stop offset="0.4982" stop-color="#cee9e1"/><stop offset="0.4982" stop-color="#d5ecdb"/><stop offset="0.5785" stop-color="#e7f3d1"/><stop offset="0.5785" stop-color="#f3f8c8"/><stop offset="0.6662" stop-color="#f8fac4"/><stop offset="0.6662" stop-color="#fdfabe"/><stop offset="0.9218" stop-color="#fcf9be"/><stop offset="0.9218" stop-color="#fff1b2"/><stop offset="1.0000" stop-color="#fff1b2"/></linearGradient>
<linearGradient id="g60" gradientUnits="userSpaceOnUse" x1="516.80" y1="0" x2="653.70" y2="0"><stop offset="0.0000" stop-color="#d6ecda"/><stop offset="0.1914" stop-color="#d2eadd"/><stop offset="0.1914" stop-color="#cae6e2"/><stop offset="0.4982" stop-color="#cae7e4"/><stop offset="0.4982" stop-color="#d3eadd"/><stop offset="0.5785" stop-color="#e6f3d2"/><stop offset="0.5785" stop-color="#f2f8c8"/><stop offset="0.6662" stop-color="#f8fac4"/><stop offset="0.6662" stop-color="#fcfbc1"/><stop offset="0.9218" stop-color="#fcfbc1"/><stop offset="0.9218" stop-color="#fff6b6"/><stop offset="1.0000" stop-color="#fff6b6"/></linearGradient>
<linearGradient id="g61" gradientUnits="userSpaceOnUse" x1="516.80" y1="0" x2="653.70" y2="0"><stop offset="0.0000" stop-color="#d2eadd"/><stop offset="0.1914" stop-color="#d0e9df"/><stop offset="0.1914" stop-color="#c3e4e6"/><stop offset="0.4982" stop-color="#c4e4e6"/><stop offset="0.4982" stop-color="#d0eade"/><stop offset="0.5785" stop-color="#e4f2d2"/><stop offset="0.5785" stop-color="#f0f7ca"/><stop offset="0.6662" stop-color="#f6f9c6"/><stop offset="0.6662" stop-color="#fbfbc3"/><stop offset="0.9218" stop-color="#fafbc3"/><stop offset="0.9218" stop-color="#fff9b9"/><stop offset="1.0000" stop-color="#fff9b9"/></linearGradient>
<linearGradient id="g62" gradientUnits="userSpaceOnUse" x1="516.80" y1="0" x2="653.70" y2="0"><stop offset="0.0000" stop-color="#d0e9df"/><stop offset="0.1914" stop-color="#cee8e0"/><stop offset="0.1914" stop-color="#c0e2e8"/><stop offset="0.4982" stop-color="#c2e3e8"/><stop offset="0.4982" stop-color="#cfe9df"/><stop offset="0.5785" stop-color="#e4f2d2"/><stop offset="0.5785" stop-color="#f0f7ca"/><stop offset="0.6662" stop-color="#f6f9c6"/><stop offset="0.6662" stop-color="#fafbc4"/><stop offset="0.9218" stop-color="#fafbc4"/><stop offset="0.9218" stop-color="#fffbbb"/><stop offset="1.0000" stop-color="#fffbbb"/></linearGradient>
<linearGradient id="g63" gradientUnits="userSpaceOnUse" x1="516.80" y1="0" x2="653.70" y2="0"><stop offset="0.0000" stop-color="#d2eade"/><stop offset="0.1914" stop-color="#d0e9df"/><stop offset="0.1914" stop-color="#c2e3e6"/><stop offset="0.4982" stop-color="#c4e4e6"/><stop offset="0.4982" stop-color="#d0eade"/><stop offset="0.5785" stop-color="#e4f2d2"/><stop offset="0.5785" stop-color="#f0f7ca"/><stop offset="0.6662" stop-color="#f6f9c6"/><stop offset="0.6662" stop-color="#fafbc4"/><stop offset="0.9218" stop-color="#fafbc4"/><stop offset="0.9218" stop-color="#fffbbb"/><stop offset="1.0000" stop-color="#fffbbb"/></linearGradient>
<linearGradient id="g64" gradientUnits="userSpaceOnUse" x1="516.80" y1="0" x2="653.70" y2="0"><stop offset="0.0000" stop-color="#d6ecdb"/><stop offset="0.1914" stop-color="#d3ebdc"/><stop offset="0.1914" stop-color="#c7e5e4"/><stop offset="0.4982" stop-color="#c9e6e4"/><stop offset="0.4982" stop-color="#d2eadc"/><stop offset="0.5785" stop-color="#e6f3d1"/><stop offset="0.5785" stop-color="#f0f7ca"/><stop offset="0.6662" stop-color="#f6f9c6"/><stop offset="0.6662" stop-color="#fafbc4"/><stop offset="0.9218" stop-color="#fafbc4"/><stop offset="0.9218" stop-color="#fffbbb"/><stop offset="1.0000" stop-color="#fffbbb"/></linearGradient>
<linearGradient id="g65" gradientUnits="userSpaceOnUse" x1="516.80" y1="0" x2="653.70" y2="0"><stop offset="0.0000" stop-color="#daedd8"/><stop offset="0.1914" stop-color="#d7ecda"/><stop offset="0.1914" stop-color="#cbe7e0"/><stop offset="0.4982" stop-color="#cde8e0"/><stop offset="0.4982" stop-color="#d5ecdb"/><stop offset="0.5785" stop-color="#e6f3d1"/><stop offset="0.5785" stop-color="#f0f7ca"/><stop offset="0.6662" stop-color="#f6f9c6"/><stop offset="0.6662" stop-color="#fafbc4"/><stop offset="0.9218" stop-color="#fafbc4"/><stop offset="0.9218" stop-color="#fffbbb"/><stop offset="1.0000" stop-color="#fffbbb"/></linearGradient>
<linearGradient id="g66" gradientUnits="userSpaceOnUse" x1="516.80" y1="0" x2="653.70" y2="0"><stop offset="0.0000" stop-color="#deefd5"/><stop offset="0.1914" stop-color="#daeed7"/><stop offset="0.1914" stop-color="#d0e9de"/><stop offset="0.4982" stop-color="#d2eade"/><stop offset="0.4982" stop-color="#d7ecd9"/><stop offset="0.5785" stop-color="#e8f4d0"/><stop offset="0.5785" stop-color="#f0f7ca"/><stop offset="0.6662" stop-color="#f6f9c6"/><stop offset="0.6662" stop-color="#fafbc4"/><stop offset="0.9218" stop-color="#fafbc4"/><stop offset="0.9218" stop-color="#fffbbb"/><stop offset="1.0000" stop-color="#fffbbb"/></linearGradient></defs>
<path d="M15,0 L15.0,0.00 L30.0,0.48 L45.0,0.95 L60.0,1.41 L75.0,1.87 L90.0,2.32 L105.0,2.77 L120.0,3.22 L135.0,3.65 L150.0,4.08 L165.0,4.51 L180.0,4.93 L195.0,5.35 L210.0,5.76 L225.0,6.16 L240.0,6.56 L255.0,6.95 L270.0,7.34 L285.0,7.72 L300.0,8.10 L315.0,8.47 L330.0,8.84 L345.0,9.20 L360.0,9.55 L375.0,9.90 L390.0,10.25 L405.0,10.59 L420.0,10.92 L435.0,11.25 L450.0,11.57 L465.0,11.89 L480.0,12.20 L495.0,12.50 L510.0,12.80 L525.0,13.10 L540.0,13.39 L555.0,13.67 L570.0,13.95 L585.0,14.22 L600.0,14.49 L615.0,14.75 L630.0,15.01 L645.0,15.26 L660.0,15.50 L675.0,15.74 L690.0,15.98 L690,18.48 L15,20.6 A10.3,10.3 0 0 1 15,0 Z" fill="url(#topban)"/>
<text x="6.60" y="14.80" font-size="9.50" fill="#e6e6de" textLength="231.30" lengthAdjust="spacingAndGlyphs">Key factors determining pyrogenic carbon preservation</text>
<path d="M0,337.3 L674,335.1 A10.35,10.35 0 0 1 674,355.8 L0,337.5 Z" fill="url(#botban)"/>
<text x="457.00" y="347.00" font-size="9.88" fill="#f6e4e8" textLength="222.30" lengthAdjust="spacingAndGlyphs">Key factors determining pyrogenic carbon production</text>
<g clip-path="url(#c1)"><g filter="url(#soft1_2)">
<rect x="31.00" y="102.00" width="142.90" height="77.70" fill="url(#g1)"/>
<rect x="31.00" y="179.00" width="142.90" height="6.70" fill="url(#g2)"/>
<rect x="31.00" y="185.00" width="142.90" height="11.70" fill="url(#g3)"/>
<rect x="31.00" y="196.00" width="142.90" height="4.45" fill="url(#g4)"/>
<rect x="31.00" y="199.75" width="142.90" height="4.45" fill="url(#g5)"/>
<rect x="31.00" y="203.50" width="142.90" height="4.45" fill="url(#g6)"/>
<rect x="31.00" y="207.25" width="142.90" height="4.45" fill="url(#g7)"/>
<rect x="31.00" y="211.00" width="142.90" height="11.70" fill="url(#g8)"/>
<rect x="31.00" y="222.00" width="142.90" height="11.70" fill="url(#g9)"/>
<rect x="31.00" y="233.00" width="142.90" height="8.50" fill="url(#g10)"/>
</g></g>
<text x="3.90" y="113.80" font-size="8.70" fill="#000" font-weight="bold" textLength="12.08" lengthAdjust="spacingAndGlyphs">(A)</text>
<line x1="32.60" y1="122.70" x2="35.00" y2="122.70" stroke="#333333" stroke-width="0.70"/>
<text x="30.50" y="125.30" font-size="8.03" fill="#4d4d4d" text-anchor="end" textLength="12.18" lengthAdjust="spacingAndGlyphs">700</text>
<line x1="32.60" y1="143.30" x2="35.00" y2="143.30" stroke="#333333" stroke-width="0.70"/>
<text x="30.50" y="145.90" font-size="8.03" fill="#4d4d4d" text-anchor="end" textLength="12.18" lengthAdjust="spacingAndGlyphs">650</text>
<line x1="32.60" y1="163.90" x2="35.00" y2="163.90" stroke="#333333" stroke-width="0.70"/>
<text x="30.50" y="166.50" font-size="8.03" fill="#4d4d4d" text-anchor="end" textLength="12.18" lengthAdjust="spacingAndGlyphs">600</text>
<line x1="32.60" y1="184.50" x2="35.00" y2="184.50" stroke="#333333" stroke-width="0.70"/>
<text x="30.50" y="187.10" font-size="8.03" fill="#4d4d4d" text-anchor="end" textLength="12.18" lengthAdjust="spacingAndGlyphs">550</text>
<line x1="32.60" y1="205.10" x2="35.00" y2="205.10" stroke="#333333" stroke-width="0.70"/>
<text x="30.50" y="207.70" font-size="8.03" fill="#4d4d4d" text-anchor="end" textLength="12.18" lengthAdjust="spacingAndGlyphs">500</text>
<line x1="32.60" y1="225.70" x2="35.00" y2="225.70" stroke="#333333" stroke-width="0.70"/>
<text x="30.50" y="228.30" font-size="8.03" fill="#4d4d4d" text-anchor="end" textLength="12.18" lengthAdjust="spacingAndGlyphs">450</text>
<line x1="39.40" y1="237.50" x2="39.40" y2="240.00" stroke="#333333" stroke-width="0.70"/>
<text x="39.40" y="246.70" font-size="8.03" fill="#4d4d4d" text-anchor="middle" textLength="8.12" lengthAdjust="spacingAndGlyphs">10</text>
<line x1="63.50" y1="237.50" x2="63.50" y2="240.00" stroke="#333333" stroke-width="0.70"/>
<text x="63.50" y="246.70" font-size="8.03" fill="#4d4d4d" text-anchor="middle" textLength="8.12" lengthAdjust="spacingAndGlyphs">20</text>
<line x1="87.60" y1="237.50" x2="87.60" y2="240.00" stroke="#333333" stroke-width="0.70"/>
<text x="87.60" y="246.70" font-size="8.03" fill="#4d4d4d" text-anchor="middle" textLength="8.12" lengthAdjust="spacingAndGlyphs">30</text>
<line x1="111.80" y1="237.50" x2="111.80" y2="240.00" stroke="#333333" stroke-width="0.70"/>
<text x="111.80" y="246.70" font-size="8.03" fill="#4d4d4d" text-anchor="middle" textLength="8.12" lengthAdjust="spacingAndGlyphs">40</text>
<line x1="136.00" y1="237.50" x2="136.00" y2="240.00" stroke="#333333" stroke-width="0.70"/>
<text x="136.00" y="246.70" font-size="8.03" fill="#4d4d4d" text-anchor="middle" textLength="8.12" lengthAdjust="spacingAndGlyphs">50</text>
<line x1="160.20" y1="237.50" x2="160.20" y2="240.00" stroke="#333333" stroke-width="0.70"/>
<text x="160.20" y="246.70" font-size="8.03" fill="#4d4d4d" text-anchor="middle" textLength="8.12" lengthAdjust="spacingAndGlyphs">60</text>
<text x="102.20" y="257.60" font-size="9.52" fill="#000" text-anchor="middle" textLength="78.84" lengthAdjust="spacingAndGlyphs">Soil clay content (%)</text>
<text x="12.40" y="171.75" font-size="9.52" fill="#000" text-anchor="middle" textLength="100.60" lengthAdjust="spacingAndGlyphs" transform="rotate(-90 12.40 171.75)">Mean annual rainfall (mm)</text>
<rect x="6.45" y="306.2" width="148.35" height="14.3" fill="url(#leg)"/>
<line x1="14.50" y1="306.20" x2="14.50" y2="309.00" stroke="#ffffff" stroke-width="0.60"/>
<line x1="14.50" y1="317.70" x2="14.50" y2="320.50" stroke="#ffffff" stroke-width="0.60"/>
<text x="14.50" y="331.00" font-size="9.24" fill="#1a1a1a" text-anchor="middle" textLength="11.68" lengthAdjust="spacingAndGlyphs">0.8</text>
<line x1="35.60" y1="306.20" x2="35.60" y2="309.00" stroke="#ffffff" stroke-width="0.60"/>
<line x1="35.60" y1="317.70" x2="35.60" y2="320.50" stroke="#ffffff" stroke-width="0.60"/>
<text x="35.60" y="331.00" font-size="9.24" fill="#1a1a1a" text-anchor="middle" textLength="11.68" lengthAdjust="spacingAndGlyphs">1.0</text>
<line x1="56.10" y1="306.20" x2="56.10" y2="309.00" stroke="#ffffff" stroke-width="0.60"/>
<line x1="56.10" y1="317.70" x2="56.10" y2="320.50" stroke="#ffffff" stroke-width="0.60"/>
<text x="56.10" y="331.00" font-size="9.24" fill="#1a1a1a" text-anchor="middle" textLength="11.68" lengthAdjust="spacingAndGlyphs">1.2</text>
<line x1="76.90" y1="306.20" x2="76.90" y2="309.00" stroke="#ffffff" stroke-width="0.60"/>
<line x1="76.90" y1="317.70" x2="76.90" y2="320.50" stroke="#ffffff" stroke-width="0.60"/>
<text x="76.90" y="331.00" font-size="9.24" fill="#1a1a1a" text-anchor="middle" textLength="11.68" lengthAdjust="spacingAndGlyphs">1.4</text>
<line x1="97.40" y1="306.20" x2="97.40" y2="309.00" stroke="#ffffff" stroke-width="0.60"/>
<line x1="97.40" y1="317.70" x2="97.40" y2="320.50" stroke="#ffffff" stroke-width="0.60"/>
<text x="97.40" y="331.00" font-size="9.24" fill="#1a1a1a" text-anchor="middle" textLength="11.68" lengthAdjust="spacingAndGlyphs">1.6</text>
<line x1="118.20" y1="306.20" x2="118.20" y2="309.00" stroke="#ffffff" stroke-width="0.60"/>
<line x1="118.20" y1="317.70" x2="118.20" y2="320.50" stroke="#ffffff" stroke-width="0.60"/>
<text x="118.20" y="331.00" font-size="9.24" fill="#1a1a1a" text-anchor="middle" textLength="11.68" lengthAdjust="spacingAndGlyphs">1.8</text>
<line x1="138.60" y1="306.20" x2="138.60" y2="309.00" stroke="#ffffff" stroke-width="0.60"/>
<line x1="138.60" y1="317.70" x2="138.60" y2="320.50" stroke="#ffffff" stroke-width="0.60"/>
<text x="138.60" y="331.00" font-size="9.24" fill="#1a1a1a" text-anchor="middle" textLength="11.68" lengthAdjust="spacingAndGlyphs">2.0</text>
<text x="6.20" y="300.00" font-size="9.52" fill="#000" textLength="148.00" lengthAdjust="spacingAndGlyphs">Soil pyrogenic carbon stock (Mg C/ha)</text>
<g clip-path="url(#c2)"><g filter="url(#soft1_2)">
<rect x="199.70" y="19.00" width="144.30" height="37.10" fill="url(#g11)"/>
<rect x="199.70" y="55.40" width="144.30" height="28.30" fill="url(#g12)"/>
<rect x="199.70" y="83.00" width="144.30" height="10.70" fill="url(#g13)"/>
<rect x="199.70" y="93.00" width="144.30" height="31.00" fill="url(#g14)"/>
<rect x="199.70" y="123.30" width="144.30" height="16.40" fill="url(#g15)"/>
<rect x="199.70" y="139.00" width="144.30" height="18.80" fill="url(#g16)"/>
</g></g>
<text x="171.00" y="28.70" font-size="8.70" fill="#000" font-weight="bold" textLength="12.08" lengthAdjust="spacingAndGlyphs">(B)</text>
<line x1="201.30" y1="42.50" x2="203.70" y2="42.50" stroke="#333333" stroke-width="0.70"/>
<text x="199.20" y="45.10" font-size="8.03" fill="#4d4d4d" text-anchor="end" textLength="10.15" lengthAdjust="spacingAndGlyphs">0.4</text>
<line x1="201.30" y1="69.80" x2="203.70" y2="69.80" stroke="#333333" stroke-width="0.70"/>
<text x="199.20" y="72.40" font-size="8.03" fill="#4d4d4d" text-anchor="end" textLength="10.15" lengthAdjust="spacingAndGlyphs">0.3</text>
<line x1="201.30" y1="97.10" x2="203.70" y2="97.10" stroke="#333333" stroke-width="0.70"/>
<text x="199.20" y="99.70" font-size="8.03" fill="#4d4d4d" text-anchor="end" textLength="10.15" lengthAdjust="spacingAndGlyphs">0.2</text>
<line x1="201.30" y1="124.40" x2="203.70" y2="124.40" stroke="#333333" stroke-width="0.70"/>
<text x="199.20" y="127.00" font-size="8.03" fill="#4d4d4d" text-anchor="end" textLength="10.15" lengthAdjust="spacingAndGlyphs">0.1</text>
<line x1="201.30" y1="152.30" x2="203.70" y2="152.30" stroke="#333333" stroke-width="0.70"/>
<text x="199.20" y="148.70" font-size="8.03" fill="#4d4d4d" text-anchor="end" textLength="10.15" lengthAdjust="spacingAndGlyphs">0.0</text>
<line x1="208.20" y1="153.80" x2="208.20" y2="156.30" stroke="#333333" stroke-width="0.70"/>
<text x="214.60" y="163.80" font-size="8.03" fill="#4d4d4d" text-anchor="middle" textLength="8.12" lengthAdjust="spacingAndGlyphs">10</text>
<line x1="232.50" y1="153.80" x2="232.50" y2="156.30" stroke="#333333" stroke-width="0.70"/>
<text x="232.50" y="163.80" font-size="8.03" fill="#4d4d4d" text-anchor="middle" textLength="8.12" lengthAdjust="spacingAndGlyphs">20</text>
<line x1="256.80" y1="153.80" x2="256.80" y2="156.30" stroke="#333333" stroke-width="0.70"/>
<text x="256.80" y="163.80" font-size="8.03" fill="#4d4d4d" text-anchor="middle" textLength="8.12" lengthAdjust="spacingAndGlyphs">30</text>
<line x1="281.10" y1="153.80" x2="281.10" y2="156.30" stroke="#333333" stroke-width="0.70"/>
<text x="281.10" y="163.80" font-size="8.03" fill="#4d4d4d" text-anchor="middle" textLength="8.12" lengthAdjust="spacingAndGlyphs">40</text>
<line x1="305.90" y1="153.80" x2="305.90" y2="156.30" stroke="#333333" stroke-width="0.70"/>
<text x="305.90" y="163.80" font-size="8.03" fill="#4d4d4d" text-anchor="middle" textLength="8.12" lengthAdjust="spacingAndGlyphs">50</text>
<line x1="330.70" y1="153.80" x2="330.70" y2="156.30" stroke="#333333" stroke-width="0.70"/>
<text x="330.70" y="163.80" font-size="8.03" fill="#4d4d4d" text-anchor="middle" textLength="8.12" lengthAdjust="spacingAndGlyphs">60</text>
<text x="272.00" y="174.30" font-size="9.52" fill="#000" text-anchor="middle" textLength="78.84" lengthAdjust="spacingAndGlyphs">Soil clay content (%)</text>
<text x="180.10" y="88.70" font-size="9.52" fill="#000" text-anchor="middle" textLength="99.80" lengthAdjust="spacingAndGlyphs" transform="rotate(-90 180.10 88.70)">Fire frequency (fires/year)</text>
<g clip-path="url(#c3)"><g filter="url(#soft1_2)">
<rect x="371.00" y="19.00" width="145.00" height="36.10" fill="url(#g17)"/>
<rect x="371.00" y="54.40" width="145.00" height="40.30" fill="url(#g18)"/>
<rect x="371.00" y="94.00" width="145.00" height="45.40" fill="url(#g19)"/>
<rect x="371.00" y="138.70" width="145.00" height="19.30" fill="url(#g20)"/>
</g></g>
<text x="342.70" y="28.30" font-size="8.70" fill="#000" font-weight="bold" textLength="12.08" lengthAdjust="spacingAndGlyphs">(C)</text>
<line x1="372.60" y1="42.00" x2="375.00" y2="42.00" stroke="#333333" stroke-width="0.70"/>
<text x="370.50" y="44.60" font-size="8.03" fill="#4d4d4d" text-anchor="end" textLength="10.15" lengthAdjust="spacingAndGlyphs">0.4</text>
<line x1="372.60" y1="69.50" x2="375.00" y2="69.50" stroke="#333333" stroke-width="0.70"/>
<text x="370.50" y="72.10" font-size="8.03" fill="#4d4d4d" text-anchor="end" textLength="10.15" lengthAdjust="spacingAndGlyphs">0.3</text>
<line x1="372.60" y1="97.00" x2="375.00" y2="97.00" stroke="#333333" stroke-width="0.70"/>
<text x="370.50" y="99.60" font-size="8.03" fill="#4d4d4d" text-anchor="end" textLength="10.15" lengthAdjust="spacingAndGlyphs">0.2</text>
<line x1="372.60" y1="124.50" x2="375.00" y2="124.50" stroke="#333333" stroke-width="0.70"/>
<text x="370.50" y="127.10" font-size="8.03" fill="#4d4d4d" text-anchor="end" textLength="10.15" lengthAdjust="spacingAndGlyphs">0.1</text>
<line x1="372.60" y1="152.20" x2="375.00" y2="152.20" stroke="#333333" stroke-width="0.70"/>
<text x="370.50" y="154.80" font-size="8.03" fill="#4d4d4d" text-anchor="end" textLength="10.15" lengthAdjust="spacingAndGlyphs">0.0</text>
<line x1="387.00" y1="154.00" x2="387.00" y2="156.50" stroke="#333333" stroke-width="0.70"/>
<text x="387.00" y="163.70" font-size="8.03" fill="#4d4d4d" text-anchor="middle" textLength="12.18" lengthAdjust="spacingAndGlyphs">450</text>
<line x1="408.60" y1="154.00" x2="408.60" y2="156.50" stroke="#333333" stroke-width="0.70"/>
<text x="408.60" y="163.70" font-size="8.03" fill="#4d4d4d" text-anchor="middle" textLength="12.18" lengthAdjust="spacingAndGlyphs">500</text>
<line x1="430.00" y1="154.00" x2="430.00" y2="156.50" stroke="#333333" stroke-width="0.70"/>
<text x="430.00" y="163.70" font-size="8.03" fill="#4d4d4d" text-anchor="middle" textLength="12.18" lengthAdjust="spacingAndGlyphs">550</text>
<line x1="451.60" y1="154.00" x2="451.60" y2="156.50" stroke="#333333" stroke-width="0.70"/>
<text x="451.60" y="163.70" font-size="8.03" fill="#4d4d4d" text-anchor="middle" textLength="12.18" lengthAdjust="spacingAndGlyphs">600</text>
<line x1="473.20" y1="154.00" x2="473.20" y2="156.50" stroke="#333333" stroke-width="0.70"/>
<text x="473.20" y="163.70" font-size="8.03" fill="#4d4d4d" text-anchor="middle" textLength="12.18" lengthAdjust="spacingAndGlyphs">650</text>
<line x1="494.60" y1="154.00" x2="494.60" y2="156.50" stroke="#333333" stroke-width="0.70"/>
<text x="494.60" y="163.70" font-size="8.03" fill="#4d4d4d" text-anchor="middle" textLength="12.18" lengthAdjust="spacingAndGlyphs">700</text>
<text x="443.10" y="174.80" font-size="9.52" fill="#000" text-anchor="middle" textLength="100.47" lengthAdjust="spacingAndGlyphs">Mean annual rainfall (mm)</text>
<text x="351.30" y="88.70" font-size="9.52" fill="#000" text-anchor="middle" textLength="99.80" lengthAdjust="spacingAndGlyphs" transform="rotate(-90 351.30 88.70)">Fire frequency (fires/year)</text>
<g clip-path="url(#c4)"><g filter="url(#soft1_3)">
<rect x="199.70" y="176.80" width="145.60" height="13.90" fill="url(#g21)"/>
<rect x="199.70" y="190.00" width="145.60" height="34.70" fill="url(#g22)"/>
<rect x="199.70" y="224.00" width="145.60" height="15.70" fill="url(#g23)"/>
<rect x="199.70" y="239.00" width="145.60" height="10.70" fill="url(#g24)"/>
<rect x="199.70" y="249.00" width="145.60" height="7.53" fill="url(#g25)"/>
<rect x="199.70" y="255.83" width="145.60" height="7.53" fill="url(#g26)"/>
<rect x="199.70" y="262.67" width="145.60" height="7.53" fill="url(#g27)"/>
<rect x="199.70" y="269.50" width="145.60" height="7.53" fill="url(#g28)"/>
<rect x="199.70" y="276.33" width="145.60" height="7.53" fill="url(#g29)"/>
<rect x="199.70" y="283.17" width="145.60" height="7.53" fill="url(#g30)"/>
<rect x="199.70" y="290.00" width="145.60" height="25.60" fill="url(#g31)"/>
</g></g>
<text x="171.20" y="184.00" font-size="8.70" fill="#000" font-weight="bold" textLength="12.08" lengthAdjust="spacingAndGlyphs">(D)</text>
<line x1="201.30" y1="189.30" x2="203.70" y2="189.30" stroke="#333333" stroke-width="0.70"/>
<text x="199.20" y="191.90" font-size="8.03" fill="#4d4d4d" text-anchor="end" textLength="16.24" lengthAdjust="spacingAndGlyphs">6500</text>
<line x1="201.30" y1="208.80" x2="203.70" y2="208.80" stroke="#333333" stroke-width="0.70"/>
<text x="199.20" y="211.40" font-size="8.03" fill="#4d4d4d" text-anchor="end" textLength="16.24" lengthAdjust="spacingAndGlyphs">5500</text>
<line x1="201.30" y1="228.30" x2="203.70" y2="228.30" stroke="#333333" stroke-width="0.70"/>
<text x="199.20" y="230.90" font-size="8.03" fill="#4d4d4d" text-anchor="end" textLength="16.24" lengthAdjust="spacingAndGlyphs">4500</text>
<line x1="201.30" y1="247.80" x2="203.70" y2="247.80" stroke="#333333" stroke-width="0.70"/>
<text x="199.20" y="250.40" font-size="8.03" fill="#4d4d4d" text-anchor="end" textLength="16.24" lengthAdjust="spacingAndGlyphs">3500</text>
<line x1="201.30" y1="267.30" x2="203.70" y2="267.30" stroke="#333333" stroke-width="0.70"/>
<text x="199.20" y="269.90" font-size="8.03" fill="#4d4d4d" text-anchor="end" textLength="16.24" lengthAdjust="spacingAndGlyphs">2500</text>
<line x1="201.30" y1="286.80" x2="203.70" y2="286.80" stroke="#333333" stroke-width="0.70"/>
<text x="199.20" y="289.40" font-size="8.03" fill="#4d4d4d" text-anchor="end" textLength="16.24" lengthAdjust="spacingAndGlyphs">1500</text>
<line x1="201.30" y1="306.30" x2="203.70" y2="306.30" stroke="#333333" stroke-width="0.70"/>
<text x="199.20" y="308.90" font-size="8.03" fill="#4d4d4d" text-anchor="end" textLength="12.18" lengthAdjust="spacingAndGlyphs">500</text>
<line x1="215.40" y1="311.60" x2="215.40" y2="314.10" stroke="#333333" stroke-width="0.70"/>
<text x="215.40" y="321.70" font-size="8.03" fill="#4d4d4d" text-anchor="middle" textLength="8.12" lengthAdjust="spacingAndGlyphs">10</text>
<line x1="233.30" y1="311.60" x2="233.30" y2="314.10" stroke="#333333" stroke-width="0.70"/>
<text x="233.30" y="321.70" font-size="8.03" fill="#4d4d4d" text-anchor="middle" textLength="8.12" lengthAdjust="spacingAndGlyphs">20</text>
<line x1="257.60" y1="311.60" x2="257.60" y2="314.10" stroke="#333333" stroke-width="0.70"/>
<text x="257.60" y="321.70" font-size="8.03" fill="#4d4d4d" text-anchor="middle" textLength="8.12" lengthAdjust="spacingAndGlyphs">30</text>
<line x1="282.50" y1="311.60" x2="282.50" y2="314.10" stroke="#333333" stroke-width="0.70"/>
<text x="282.50" y="321.70" font-size="8.03" fill="#4d4d4d" text-anchor="middle" textLength="8.12" lengthAdjust="spacingAndGlyphs">40</text>
<line x1="307.30" y1="311.60" x2="307.30" y2="314.10" stroke="#333333" stroke-width="0.70"/>
<text x="307.30" y="321.70" font-size="8.03" fill="#4d4d4d" text-anchor="middle" textLength="8.12" lengthAdjust="spacingAndGlyphs">50</text>
<line x1="331.80" y1="311.60" x2="331.80" y2="314.10" stroke="#333333" stroke-width="0.70"/>
<text x="331.80" y="321.70" font-size="8.03" fill="#4d4d4d" text-anchor="middle" textLength="8.12" lengthAdjust="spacingAndGlyphs">60</text>
<text x="269.50" y="333.40" font-size="9.52" fill="#000" text-anchor="middle" textLength="78.84" lengthAdjust="spacingAndGlyphs">Soil clay content (%)</text>
<text x="178.50" y="246.50" font-size="9.52" fill="#000" text-anchor="middle" textLength="87.20" lengthAdjust="spacingAndGlyphs" transform="rotate(-90 178.50 246.50)">Grass biomass (kg/ha)</text>
<g clip-path="url(#c5)"><g filter="url(#soft1_5)">
<rect x="371.70" y="175.20" width="144.30" height="11.50" fill="url(#g32)"/>
<rect x="371.70" y="186.00" width="144.30" height="36.70" fill="url(#g33)"/>
<rect x="371.70" y="222.00" width="144.30" height="3.20" fill="url(#g34)"/>
<rect x="371.70" y="224.50" width="144.30" height="3.20" fill="url(#g35)"/>
<rect x="371.70" y="227.00" width="144.30" height="7.70" fill="url(#g36)"/>
<rect x="371.70" y="234.00" width="144.30" height="3.70" fill="url(#g37)"/>
<rect x="371.70" y="237.00" width="144.30" height="3.70" fill="url(#g38)"/>
<rect x="371.70" y="240.00" width="144.30" height="3.70" fill="url(#g39)"/>
<rect x="371.70" y="243.00" width="144.30" height="3.70" fill="url(#g40)"/>
<rect x="371.70" y="246.00" width="144.30" height="4.70" fill="url(#g41)"/>
<rect x="371.70" y="250.00" width="144.30" height="4.70" fill="url(#g42)"/>
<rect x="371.70" y="254.00" width="144.30" height="4.70" fill="url(#g43)"/>
<rect x="371.70" y="258.00" width="144.30" height="4.70" fill="url(#g44)"/>
<rect x="371.70" y="262.00" width="144.30" height="10.70" fill="url(#g45)"/>
<rect x="371.70" y="272.00" width="144.30" height="4.70" fill="url(#g46)"/>
<rect x="371.70" y="276.00" width="144.30" height="4.70" fill="url(#g47)"/>
<rect x="371.70" y="280.00" width="144.30" height="4.70" fill="url(#g48)"/>
<rect x="371.70" y="284.00" width="144.30" height="4.70" fill="url(#g49)"/>
<rect x="371.70" y="288.00" width="144.30" height="4.70" fill="url(#g50)"/>
<rect x="371.70" y="292.00" width="144.30" height="22.80" fill="url(#g51)"/>
</g></g>
<text x="342.70" y="184.80" font-size="8.70" fill="#000" font-weight="bold" textLength="11.60" lengthAdjust="spacingAndGlyphs">(E)</text>
<line x1="373.30" y1="188.70" x2="375.70" y2="188.70" stroke="#333333" stroke-width="0.70"/>
<text x="371.20" y="191.30" font-size="8.03" fill="#4d4d4d" text-anchor="end" textLength="16.24" lengthAdjust="spacingAndGlyphs">6500</text>
<line x1="373.30" y1="208.30" x2="375.70" y2="208.30" stroke="#333333" stroke-width="0.70"/>
<text x="371.20" y="210.90" font-size="8.03" fill="#4d4d4d" text-anchor="end" textLength="16.24" lengthAdjust="spacingAndGlyphs">5500</text>
<line x1="373.30" y1="227.90" x2="375.70" y2="227.90" stroke="#333333" stroke-width="0.70"/>
<text x="371.20" y="230.50" font-size="8.03" fill="#4d4d4d" text-anchor="end" textLength="16.24" lengthAdjust="spacingAndGlyphs">4500</text>
<line x1="373.30" y1="247.50" x2="375.70" y2="247.50" stroke="#333333" stroke-width="0.70"/>
<text x="371.20" y="250.10" font-size="8.03" fill="#4d4d4d" text-anchor="end" textLength="16.24" lengthAdjust="spacingAndGlyphs">3500</text>
<line x1="373.30" y1="267.10" x2="375.70" y2="267.10" stroke="#333333" stroke-width="0.70"/>
<text x="371.20" y="269.70" font-size="8.03" fill="#4d4d4d" text-anchor="end" textLength="16.24" lengthAdjust="spacingAndGlyphs">2500</text>
<line x1="373.30" y1="286.70" x2="375.70" y2="286.70" stroke="#333333" stroke-width="0.70"/>
<text x="371.20" y="289.30" font-size="8.03" fill="#4d4d4d" text-anchor="end" textLength="16.24" lengthAdjust="spacingAndGlyphs">1500</text>
<line x1="373.30" y1="306.30" x2="375.70" y2="306.30" stroke="#333333" stroke-width="0.70"/>
<text x="371.20" y="308.90" font-size="8.03" fill="#4d4d4d" text-anchor="end" textLength="12.18" lengthAdjust="spacingAndGlyphs">500</text>
<line x1="388.00" y1="310.80" x2="388.00" y2="313.30" stroke="#333333" stroke-width="0.70"/>
<text x="395.00" y="320.50" font-size="8.03" fill="#4d4d4d" text-anchor="middle" textLength="12.18" lengthAdjust="spacingAndGlyphs">450</text>
<line x1="409.20" y1="310.80" x2="409.20" y2="313.30" stroke="#333333" stroke-width="0.70"/>
<text x="409.20" y="320.50" font-size="8.03" fill="#4d4d4d" text-anchor="middle" textLength="12.18" lengthAdjust="spacingAndGlyphs">500</text>
<line x1="430.40" y1="310.80" x2="430.40" y2="313.30" stroke="#333333" stroke-width="0.70"/>
<text x="430.40" y="320.50" font-size="8.03" fill="#4d4d4d" text-anchor="middle" textLength="12.18" lengthAdjust="spacingAndGlyphs">550</text>
<line x1="451.60" y1="310.80" x2="451.60" y2="313.30" stroke="#333333" stroke-width="0.70"/>
<text x="451.60" y="320.50" font-size="8.03" fill="#4d4d4d" text-anchor="middle" textLength="12.18" lengthAdjust="spacingAndGlyphs">600</text>
<line x1="473.20" y1="310.80" x2="473.20" y2="313.30" stroke="#333333" stroke-width="0.70"/>
<text x="473.20" y="320.50" font-size="8.03" fill="#4d4d4d" text-anchor="middle" textLength="12.18" lengthAdjust="spacingAndGlyphs">650</text>
<line x1="494.60" y1="310.80" x2="494.60" y2="313.30" stroke="#333333" stroke-width="0.70"/>
<text x="494.60" y="320.50" font-size="8.03" fill="#4d4d4d" text-anchor="middle" textLength="12.18" lengthAdjust="spacingAndGlyphs">700</text>
<text x="441.00" y="331.60" font-size="9.52" fill="#000" text-anchor="middle" textLength="100.47" lengthAdjust="spacingAndGlyphs">Mean annual rainfall (mm)</text>
<text x="350.10" y="245.60" font-size="9.52" fill="#000" text-anchor="middle" textLength="87.20" lengthAdjust="spacingAndGlyphs" transform="rotate(-90 350.10 245.60)">Grass biomass (kg/ha)</text>
<g clip-path="url(#c6)"><g filter="url(#soft1_6)">
<rect x="512.80" y="102.00" width="144.90" height="34.70" fill="url(#g52)"/>
<rect x="512.80" y="136.00" width="144.90" height="4.03" fill="url(#g53)"/>
<rect x="512.80" y="139.33" width="144.90" height="4.03" fill="url(#g54)"/>
<rect x="512.80" y="142.67" width="144.90" height="4.03" fill="url(#g55)"/>
<rect x="512.80" y="146.00" width="144.90" height="26.70" fill="url(#g56)"/>
<rect x="512.80" y="172.00" width="144.90" height="5.37" fill="url(#g57)"/>
<rect x="512.80" y="176.67" width="144.90" height="5.37" fill="url(#g58)"/>
<rect x="512.80" y="181.33" width="144.90" height="5.37" fill="url(#g59)"/>
<rect x="512.80" y="186.00" width="144.90" height="5.70" fill="url(#g60)"/>
<rect x="512.80" y="191.00" width="144.90" height="5.70" fill="url(#g61)"/>
<rect x="512.80" y="196.00" width="144.90" height="24.70" fill="url(#g62)"/>
<rect x="512.80" y="220.00" width="144.90" height="4.92" fill="url(#g63)"/>
<rect x="512.80" y="224.22" width="144.90" height="4.92" fill="url(#g64)"/>
<rect x="512.80" y="228.45" width="144.90" height="4.93" fill="url(#g65)"/>
<rect x="512.80" y="232.68" width="144.90" height="8.22" fill="url(#g66)"/>
</g></g>
<text x="670.50" y="113.80" font-size="8.70" fill="#000" font-weight="bold" textLength="11.11" lengthAdjust="spacingAndGlyphs">(F)</text>
<line x1="653.70" y1="125.40" x2="656.20" y2="125.40" stroke="#333333" stroke-width="0.70"/>
<text x="657.90" y="128.00" font-size="8.03" fill="#4d4d4d" textLength="10.15" lengthAdjust="spacingAndGlyphs">0.4</text>
<line x1="653.70" y1="153.00" x2="656.20" y2="153.00" stroke="#333333" stroke-width="0.70"/>
<text x="657.90" y="155.60" font-size="8.03" fill="#4d4d4d" textLength="10.15" lengthAdjust="spacingAndGlyphs">0.3</text>
<line x1="653.70" y1="180.60" x2="656.20" y2="180.60" stroke="#333333" stroke-width="0.70"/>
<text x="657.90" y="183.20" font-size="8.03" fill="#4d4d4d" textLength="10.15" lengthAdjust="spacingAndGlyphs">0.2</text>
<line x1="653.70" y1="208.20" x2="656.20" y2="208.20" stroke="#333333" stroke-width="0.70"/>
<text x="657.90" y="210.80" font-size="8.03" fill="#4d4d4d" textLength="10.15" lengthAdjust="spacingAndGlyphs">0.1</text>
<line x1="653.70" y1="235.80" x2="656.20" y2="235.80" stroke="#333333" stroke-width="0.70"/>
<text x="657.90" y="238.40" font-size="8.03" fill="#4d4d4d" textLength="10.15" lengthAdjust="spacingAndGlyphs">0.0</text>
<line x1="522.50" y1="236.90" x2="522.50" y2="239.40" stroke="#333333" stroke-width="0.70"/>
<text x="522.50" y="246.80" font-size="8.03" fill="#4d4d4d" text-anchor="middle" textLength="12.18" lengthAdjust="spacingAndGlyphs">500</text>
<line x1="542.50" y1="236.90" x2="542.50" y2="239.40" stroke="#333333" stroke-width="0.70"/>
<text x="542.50" y="246.80" font-size="8.03" fill="#4d4d4d" text-anchor="middle" textLength="16.24" lengthAdjust="spacingAndGlyphs">1500</text>
<line x1="562.60" y1="236.90" x2="562.60" y2="239.40" stroke="#333333" stroke-width="0.70"/>
<text x="562.60" y="246.80" font-size="8.03" fill="#4d4d4d" text-anchor="middle" textLength="16.24" lengthAdjust="spacingAndGlyphs">2500</text>
<line x1="582.90" y1="236.90" x2="582.90" y2="239.40" stroke="#333333" stroke-width="0.70"/>
<text x="582.90" y="246.80" font-size="8.03" fill="#4d4d4d" text-anchor="middle" textLength="16.24" lengthAdjust="spacingAndGlyphs">3500</text>
<line x1="603.10" y1="236.90" x2="603.10" y2="239.40" stroke="#333333" stroke-width="0.70"/>
<text x="603.10" y="246.80" font-size="8.03" fill="#4d4d4d" text-anchor="middle" textLength="16.24" lengthAdjust="spacingAndGlyphs">4500</text>
<line x1="623.40" y1="236.90" x2="623.40" y2="239.40" stroke="#333333" stroke-width="0.70"/>
<text x="623.40" y="246.80" font-size="8.03" fill="#4d4d4d" text-anchor="middle" textLength="16.24" lengthAdjust="spacingAndGlyphs">5500</text>
<line x1="643.60" y1="236.90" x2="643.60" y2="239.40" stroke="#333333" stroke-width="0.70"/>
<text x="643.60" y="246.80" font-size="8.03" fill="#4d4d4d" text-anchor="middle" textLength="16.24" lengthAdjust="spacingAndGlyphs">6500</text>
<text x="585.50" y="258.30" font-size="9.52" fill="#000" text-anchor="middle" textLength="87.00" lengthAdjust="spacingAndGlyphs">Grass biomass (kg/ha)</text>
<text x="679.00" y="172.00" font-size="9.52" fill="#000" text-anchor="middle" textLength="99.80" lengthAdjust="spacingAndGlyphs" transform="rotate(-90 679.00 172.00)">Fire frequency (fires/year)</text>
</svg>
</body></html>
